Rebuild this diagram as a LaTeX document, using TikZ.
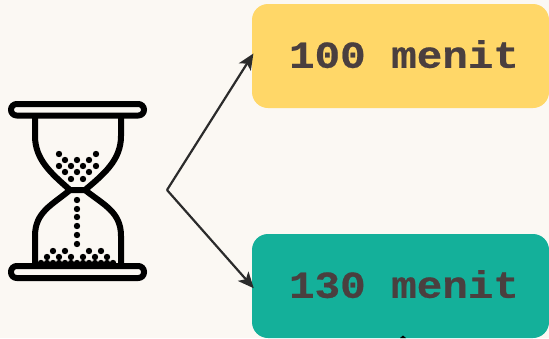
\documentclass[tikz,border=0pt]{standalone}
\usepackage{fontspec}
\newfontfamily\boxfont{Liberation Mono}[FakeStretch=1.12,BoldFeatures={FakeStretch=1.12,FakeBold=0.6}]
\usetikzlibrary{arrows.meta}
\definecolor{bgc}{HTML}{FBF8F3}
\definecolor{yel}{HTML}{FFD768}
\definecolor{grn}{HTML}{14B09A}
\definecolor{txt}{HTML}{4A3F3F}
\definecolor{arr}{HTML}{2B2B2B}
\tikzset{
  timebox/.style={rounded corners=16pt,minimum width=297pt,minimum height=104pt,inner sep=0pt,text=txt,font=\boxfont\bfseries\fontsize{38}{38}\selectfont},
  link/.style={draw=arr,line width=2.2pt,-{Stealth[length=16pt,width=14pt,inset=4pt]},shorten >=-3pt},
  glass/.style={draw=black,line width=6pt,line cap=round,line join=round}
}
\begin{document}
\begin{tikzpicture}[x=1pt,y=-1pt]
\useasboundingbox[fill=bgc] (0,0) rectangle (549,338);
\node[timebox,fill=yel] (a) at (400.5,56) {\raisebox{4pt}{\hspace{7pt}100 menit}};
\node[timebox,fill=grn] (b) at (400.5,286) {\raisebox{4pt}{\hspace{7pt}130 menit}};
\coordinate (fork) at (167,190);
\draw[link] (fork) -- (a.west);
\draw[link] (fork) -- (b.west);
\fill[black] (403,335.5) -- (406,338) -- (400,338) -- cycle;
% hourglass
\draw[glass] (35,117) -- (35,136) .. controls (35,160) and (52,174) .. (70,190) -- (85,190) .. controls (104,174) and (121,160) .. (121,136) -- (121,117);
\draw[glass] (35,265) -- (35,236) .. controls (35,212) and (52,205) .. (70,190) (85,190) .. controls (104,205) and (121,212) .. (121,236) -- (121,265);
\foreach \p in {(59,154),(96,154),(65,160),(77,160),(89,160),(59,166),(71,166),(83,166),(96,166),(65,172),(77,172),(89,172),(71,179),(83,179),
 (77,200),(77,209),(77,217),(77,226),(77,235),(77,244),
 (53,251),(65,251),(89,251),(101,251),(47,257),(59,257),(71,257),(83,257),(95,257),(107,257),
 (41,263),(47,263),(53,263),(59,263),(65,263),(71,263),(77,263),(83,263),(89,263),(95,263),(101,263),(107,263),(113,263)}
  \fill[black] \p circle (3.2pt);
\draw[glass,fill=bgc,rounded corners=5.7pt] (11,104) rectangle (144,115.5);
\draw[glass,fill=bgc,rounded corners=5.7pt] (11,266) rectangle (144,278);
\end{tikzpicture}
\end{document}
